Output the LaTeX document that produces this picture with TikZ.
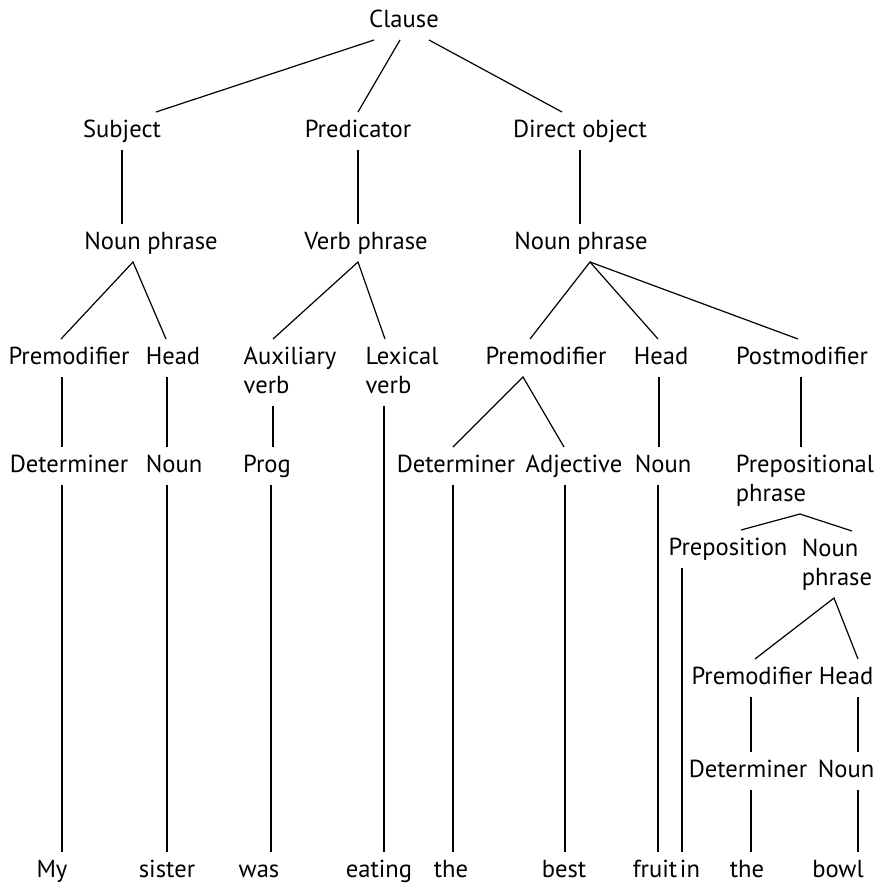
\documentclass[tikz,border=0pt]{standalone}
\usepackage{fontspec}
\setmainfont{PT Sans}
\begin{document}
\begin{tikzpicture}[x=0.5pt, y=-0.5pt, line width=0.6pt,
    lbl/.style={anchor=base, inner sep=0pt, outer ysep=3.5pt,
      text height=9pt, text depth=3pt, font=\fontsize{12.3}{14.5}\selectfont},
    lbltwo/.style={lbl, align=left, text height=23.5pt}]

    % 画布大小
    \useasboundingbox (0,0) rectangle (880,885);

    % 第一、二、三层
    \node[lbl] (clause) at (404,27) {Clause};
    \node[lbl] (subj) at (122,137) {Subject};
    \node[lbl] (pred) at (358,137) {Predicator};
    \node[lbl] (dobj) at (580,137) {Direct object};
    \node[lbl] (np1) at (151,249) {Noun phrase};
    \node[lbl] (vp) at (366,249) {Verb phrase};
    \node[lbl] (np2) at (581,249) {Noun phrase};

    % 第四层 (两行的节点以第二行为基线)
    \node[lbl] (pm1) at (69,364) {Premodifier};
    \node[lbl] (hd1) at (173,364) {Head};
    \node[lbltwo] (aux) at (290,393) {Auxiliary\\verb};
    \node[lbltwo] (lex) at (402,393) {Lexical\\verb};
    \node[lbl] (pm2) at (546,364) {Premodifier};
    \node[lbl] (hd2) at (661,364) {Head};
    \node[lbl] (post) at (802,364) {Postmodifier};

    % 第五层
    \node[lbl] (det1) at (69,472) {Determiner};
    \node[lbl] (n1) at (174,472) {Noun};
    \node[lbl] (prog) at (267,472) {Prog};
    \node[lbl] (det2) at (456,472) {Determiner};
    \node[lbl] (adj) at (574,472) {Adjective};
    \node[lbl] (n2) at (663,472) {Noun};
    \node[lbltwo] (pp) at (805,501) {Prepositional\\phrase};

    % 介词短语下面
    \node[lbl] (prep) at (728,555) {Preposition};
    \node[lbltwo] (np3) at (837,585) {Noun\\phrase};
    \node[lbl] (pm3) at (752,684) {Premodifier};
    \node[lbl] (hd3) at (846,684) {Head};
    \node[lbl] (det3) at (748,777) {Determiner};
    \node[lbl] (n3) at (846,777) {Noun};

    % 句子
    \node[lbl] (my) at (52,877) {My};
    \node[lbl] (sister) at (167,877) {sister};
    \node[lbl] (was) at (259,877) {was};
    \node[lbl] (eating) at (379,877) {eating};
    \node[lbl] (the1) at (451,877) {the};
    \node[lbl] (best) at (564,877) {best};
    \node[lbl] (fruit) at (655,877) {fruit};
    \node[lbl] (in) at (690,877) {in};
    \node[lbl] (the2) at (747,877) {the};
    \node[lbl] (bowl) at (838,877) {bowl};

    % Clause 的三条分支
    \draw ([xshift=-15pt]clause.south) -- ([xshift=17pt]subj.north);
    \draw ([xshift=-2pt]clause.south) -- (pred.north);
    \draw ([xshift=12.5pt]clause.south) -- ([xshift=-9pt]dobj.north);

    % 竖线
    \draw (subj.south) -- (subj.south |- np1.north);
    \draw (pred.south) -- (pred.south |- vp.north);
    \draw (dobj.south) -- (dobj.south |- np2.north);

    % 名词短语和动词短语的分支
    \draw ([xshift=-4pt]pm1.north) -- ([xshift=-9pt]np1.south) -- ([xshift=-3.5pt]hd1.north);
    \draw ([xshift=-8.5pt]aux.north) -- ([xshift=-4pt]vp.south) -- ([xshift=-8.5pt]lex.north);
    \draw ([xshift=-8pt]pm2.north) -- ([xshift=4.5pt]np2.south) -- ([xshift=-1.5pt]hd2.north);
    \draw ([xshift=4.5pt]np2.south) -- ([xshift=-2pt]post.north);

    % 第四层到第五层
    \draw ([xshift=-3.5pt]pm1.south) -- ([xshift=-3.5pt]pm1.south |- det1.north);
    \draw ([xshift=-3pt]hd1.south) -- ([xshift=-3pt]hd1.south |- n1.north);
    \draw ([xshift=-8.5pt]aux.south) -- ([xshift=-8.5pt]aux.south |- prog.north);
    \draw ([xshift=-1.5pt]det2.north) -- ([xshift=-11.5pt]pm2.south) -- ([xshift=-5pt]adj.north);
    \draw ([xshift=-1pt]hd2.south) -- ([xshift=-1pt]hd2.south |- n2.north);
    \draw ([xshift=-0.5pt]post.south) -- ([xshift=-0.5pt]post.south |- pp.north);

    % 到句子的竖线
    \draw ([xshift=-3.5pt]det1.south) -- ([xshift=-3.5pt]det1.south |- my.north);
    \draw ([xshift=-3.5pt]n1.south) -- ([xshift=-3.5pt]n1.south |- sister.north);
    \draw ([xshift=2pt]prog.south) -- ([xshift=2pt]prog.south |- was.north);
    \draw ([xshift=-9pt]lex.south) -- ([xshift=-9pt]lex.south |- eating.north);
    \draw ([xshift=-1.5pt]det2.south) -- ([xshift=-1.5pt]det2.south |- the1.north);
    \draw ([xshift=-4.5pt]adj.south) -- ([xshift=-4.5pt]adj.south |- best.north);
    \draw ([xshift=-2.5pt]n2.south) -- ([xshift=-2.5pt]n2.south |- fruit.north);

    % 介词短语
    \draw ([xshift=6.5pt]prep.north) -- ([xshift=-2.5pt]pp.south) -- ([xshift=7.5pt]np3.north);
    \draw ([xshift=-23pt]prep.south) -- ([xshift=-23pt]prep.south |- in.north);
    \draw ([xshift=1.5pt]pm3.north) -- ([xshift=-1.5pt]np3.south) -- ([xshift=6pt]hd3.north);
    \draw ([xshift=-0.5pt]pm3.south) -- ([xshift=-0.5pt]pm3.south |- det3.north);
    \draw ([xshift=6pt]hd3.south) -- ([xshift=6pt]hd3.south |- n3.north);
    \draw ([xshift=1.5pt]det3.south) -- ([xshift=1.5pt]det3.south |- the2.north);
    \draw ([xshift=6pt]n3.south) -- ([xshift=6pt]n3.south |- bowl.north);

\end{tikzpicture}
\end{document}
